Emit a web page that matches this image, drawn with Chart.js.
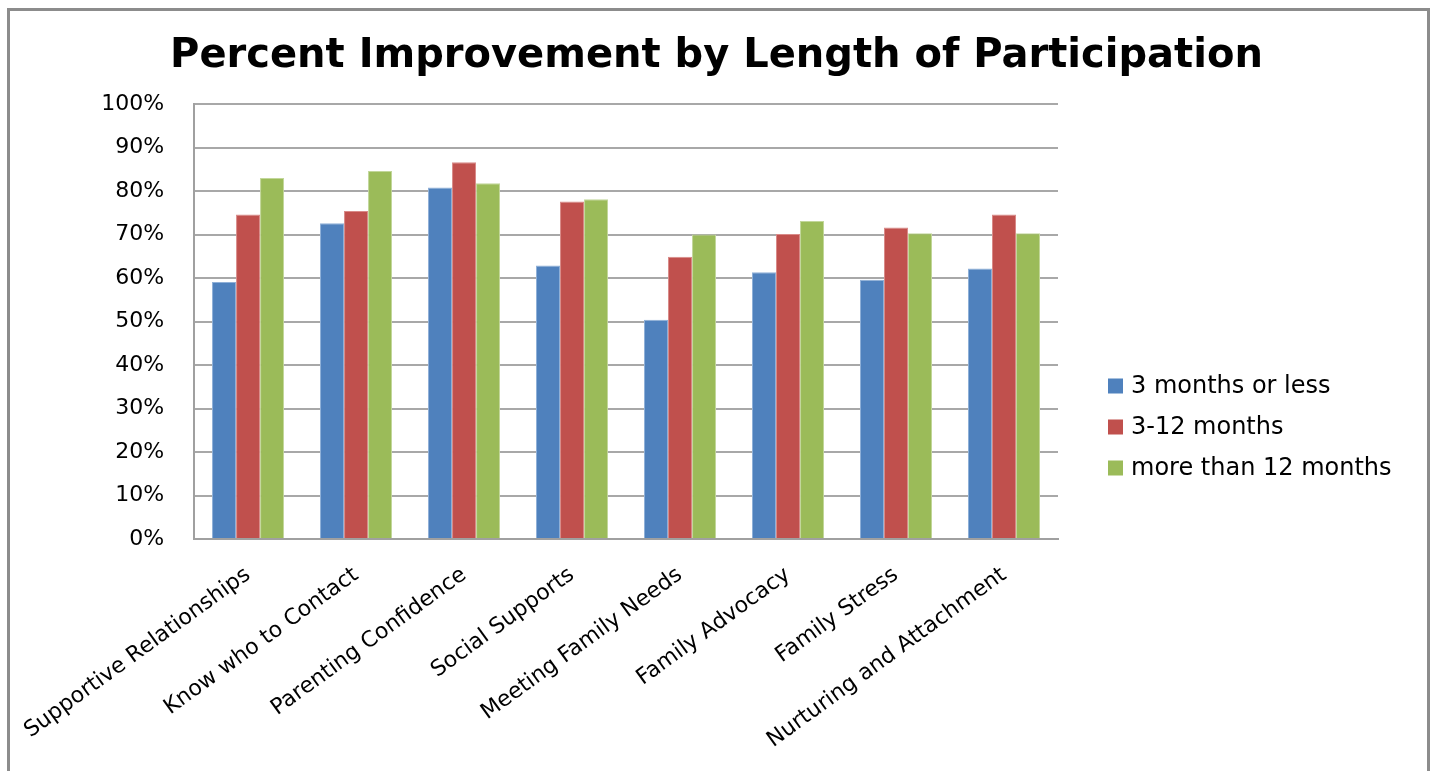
<!DOCTYPE html>
<html>
<head>
<meta charset="utf-8">
<title>Percent Improvement by Length of Participation</title>
<script src="https://cdn.jsdelivr.net/npm/chart.js@4/dist/chart.umd.min.js"></script>
<style>
  html, body { margin: 0; padding: 0; background: #ffffff; overflow: hidden; }
  #wrap { position: absolute; left: 0; top: 0; width: 1433px; height: 771px; }
  #frame {
    position: absolute; left: 7px; top: 8px; width: 1423px; height: 800px;
    border: 3px solid #8c8c8c; border-bottom: none; box-sizing: border-box;
  }
  canvas { position: absolute; left: 0; top: 0; }
</style>
</head>
<body>
<div id="wrap">
  <div id="frame"></div>
  <canvas id="chart" width="1433" height="771"></canvas>
</div>
<script>
// Program areas measured
const categories = [
  'Supportive Relationships',
  'Know who to Contact',
  'Parenting Confidence',
  'Social Supports',
  'Meeting Family Needs',
  'Family Advocacy',
  'Family Stress',
  'Nurturing and Attachment'
];

// Percent improvement for each length of participation
const seriesNames = ['3 months or less', '3-12 months', 'more than 12 months'];
const threeMonthsOrLess = [59.1, 72.6, 80.8, 62.9, 50.4, 61.3, 59.6, 62.2];
const threeToTwelveMonths = [74.6, 75.4, 86.6, 77.6, 64.9, 70.1, 71.6, 74.6];
const moreThanTwelveMonths = [83.0, 84.6, 81.8, 78.1, 70.0, 73.1, 70.3, 70.3];

// Value axis ticks
const yTickValues = [0, 10, 20, 30, 40, 50, 60, 70, 80, 90, 100];

const fillColors = ['#4F81BD', '#C0504D', '#9BBB59'];
const edgeColors = ['#8fb0d8', '#d98a88', '#c2d79a'];

// Legend stacked vertically in the space to the right of the plot
const sideLegend = {
  id: 'sideLegend',
  afterDraw(chart) {
    const ctx = chart.ctx;
    const x0 = 1108, yFirst = 386, step = 41, box = 15;
    ctx.save();
    ctx.font = '24px "DejaVu Sans"';
    ctx.textBaseline = 'middle';
    ctx.textAlign = 'left';
    chart.data.datasets.forEach((ds, i) => {
      const yc = yFirst + i * step;
      ctx.fillStyle = ds.backgroundColor;
      ctx.fillRect(x0, yc - box / 2, box, box);
      ctx.fillStyle = '#000000';
      ctx.fillText(ds.label, x0 + 23, yc + 1);
    });
    ctx.restore();
  }
};

const seriesValues = [threeMonthsOrLess, threeToTwelveMonths, moreThanTwelveMonths];

new Chart(document.getElementById('chart'), {
  type: 'bar',
  data: {
    labels: categories,
    datasets: seriesNames.map((name, i) => ({
      label: name,
      data: seriesValues[i],
      backgroundColor: fillColors[i],
      borderColor: edgeColors[i],
      borderWidth: 1,
      categoryPercentage: 0.667,
      barPercentage: 1.0
    }))
  },
  options: {
    responsive: false,
    animation: false,
    devicePixelRatio: 1,
    layout: { padding: 0 },
    plugins: {
      legend: { display: false },
      tooltip: { enabled: false },
      title: {
        display: true,
        text: 'Percent Improvement by Length of Participation',
        color: '#000000',
        font: { family: '"DejaVu Sans"', size: 40, weight: 'bold', lineHeight: 1.2 },
        padding: { top: 33, bottom: 23 }
      }
    },
    scales: {
      x: {
        grid: { display: false },
        border: { display: true, color: '#a0a0a0', width: 2 },
        ticks: {
          color: '#000000',
          font: { family: '"DejaVu Sans"', size: 22 },
          minRotation: 36,
          maxRotation: 36,
          autoSkip: false,
          padding: 15
        },
        afterFit(scale) { scale.height = 771 - 539; }
      },
      y: {
        min: 0,
        max: 100,
        afterBuildTicks(scale) { scale.ticks = yTickValues.map(v => ({ value: v })); },
        grid: { color: '#a8a8a8', lineWidth: 2, drawTicks: false },
        border: { display: true, color: '#a0a0a0', width: 2 },
        ticks: {
          color: '#000000',
          font: { family: '"DejaVu Sans"', size: 22 },
          padding: 30,
          callback: v => v + '%'
        },
        afterFit(scale) { scale.width = 193; }
      },
      // empty right-hand axis that reserves the room where the legend sits
      legendRoom: {
        type: 'linear',
        position: 'right',
        display: true,
        grid: { display: false },
        border: { display: false },
        ticks: { display: false },
        afterFit(scale) { scale.width = 1433 - 1058; }
      }
    }
  },
  plugins: [sideLegend]
});
</script>
</body>
</html>
